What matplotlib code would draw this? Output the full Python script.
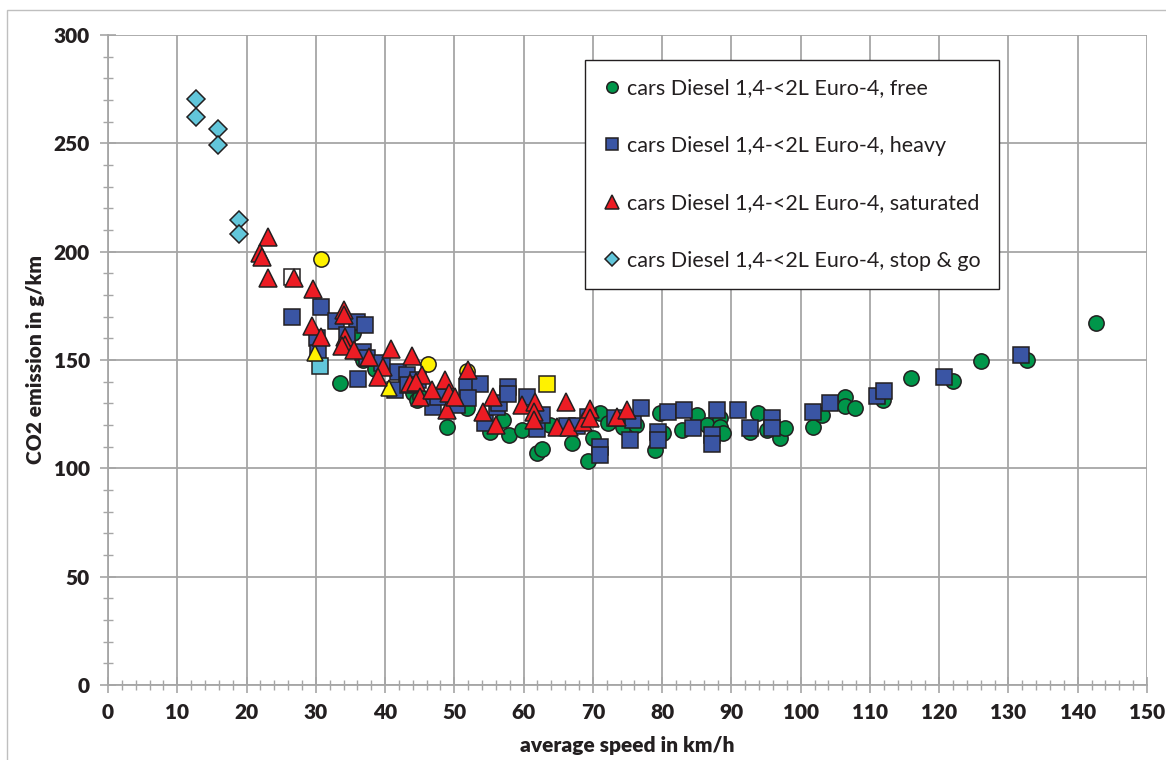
import matplotlib.pyplot as plt
from matplotlib.patches import Rectangle
from matplotlib.ticker import MultipleLocator

plt.rcParams['font.family'] = ['Lato', 'DejaVu Sans']

# free traffic (green circles)
free_x = [33.5, 35.4, 36.8, 38.5, 44.0, 44.6, 45.0, 48.9, 51.8, 55.1, 57.0, 57.9, 59.8, 61.9,
          62.7, 63.8, 67.0, 69.3, 70.0, 71.0, 72.2, 74.3, 76.2, 79.0, 79.7, 80.1, 82.9, 85.0,
          86.5, 88.3, 88.3, 88.8, 92.7, 93.8, 95.1, 97.0, 97.7, 101.8, 103.1, 106.4, 106.4,
          107.8, 111.9, 115.9, 122.0, 126.0, 132.7, 142.6]
free_y = [139.4, 162.5, 150.0, 146.0, 134.8, 131.5, 133.0, 119.1, 127.8, 116.8, 122.3, 115.4,
          117.7, 107.0, 108.9, 120.0, 111.7, 103.4, 114.0, 125.5, 120.9, 119.0, 120.0, 108.5,
          125.5, 116.3, 117.7, 124.6, 120.0, 123.2, 119.0, 116.3, 116.8, 125.5, 117.7, 114.0,
          118.6, 119.0, 124.6, 132.9, 128.8, 127.8, 131.5, 141.7, 140.3, 149.5, 150.0, 167.0]

# heavy traffic (blue squares)
heavy_x = [26.6, 30.7, 32.9, 35.9, 37.1, 34.5, 30.2, 30.3, 36.1, 36.8, 37.4, 39.6, 41.9, 43.2,
           44.8, 41.4, 43.3, 46.9, 47.6, 50.4, 51.8, 53.7, 52.0, 54.4, 56.2, 56.4, 57.7, 57.7,
           60.5, 61.9, 62.7, 66.3, 67.7, 69.3, 71.0, 71.0, 73.2, 75.8, 75.4, 77.0, 79.4, 79.4,
           80.8, 83.2, 84.5, 87.2, 87.2, 87.9, 90.9, 92.7, 95.9, 95.9, 101.8, 104.2, 111.0,
           112.0, 120.7, 131.8]
heavy_y = [169.8, 174.5, 168.0, 167.5, 166.2, 161.5, 160.2, 153.2, 141.2, 153.7, 150.9, 148.6,
           144.5, 143.0, 140.8, 136.2, 138.5, 128.3, 133.0, 129.2, 137.5, 138.9, 132.5, 120.9,
           128.3, 130.2, 137.5, 134.3, 133.0, 118.2, 124.6, 119.5, 119.5, 123.7, 109.8, 106.2,
           123.2, 122.3, 113.1, 127.8, 116.8, 113.1, 126.0, 126.9, 118.6, 115.4, 111.2, 126.9,
           126.9, 118.6, 123.2, 118.6, 126.0, 130.2, 133.4, 135.7, 142.2, 152.3]

# saturated traffic (red triangles)
sat_x = [23.1, 21.9, 22.2, 23.1, 26.9, 29.6, 34.1, 34.1, 29.5, 30.7, 34.2, 34.2, 33.8, 35.5,
         37.7, 39.7, 39.0, 40.9, 43.9, 45.3, 43.6, 44.5, 45.0, 46.8, 48.7, 48.9, 49.2, 50.1,
         52.0, 54.1, 55.6, 56.0, 59.8, 61.6, 61.5, 61.5, 66.1, 64.8, 66.6, 68.6, 69.6, 69.6,
         73.5, 74.9]
sat_y = [206.8, 199.4, 197.5, 187.8, 187.8, 182.8, 173.0, 170.8, 165.7, 160.6, 160.6, 156.9,
         156.4, 154.6, 151.4, 146.8, 142.2, 155.1, 151.8, 143.1, 139.4, 139.8, 133.0, 136.2,
         140.8, 126.9, 134.8, 133.0, 145.4, 126.0, 133.0, 120.0, 129.2, 130.6, 126.0, 122.3,
         130.6, 119.0, 119.0, 121.4, 127.4, 123.2, 123.7, 126.9]

# stop & go (cyan diamonds)
stop_x = [12.7, 12.7, 15.9, 15.9, 18.9, 18.9]
stop_y = [270.5, 262.2, 256.6, 249.2, 214.6, 208.2]

# extra points without legend entry
ycirc_x = [30.7, 46.2, 51.8]
ycirc_y = [196.6, 148.2, 144.9]
ytri_x = [29.9, 40.6]
ytri_y = [153.2, 137.1]
ysq_x = [63.4]
ysq_y = [138.9]
wsq_x = [26.6]
wsq_y = [188.3]
csq_x = [30.6]
csq_y = [147.2]

labels = ['cars Diesel 1,4-<2L Euro-4, free',
          'cars Diesel 1,4-<2L Euro-4, heavy',
          'cars Diesel 1,4-<2L Euro-4, saturated',
          'cars Diesel 1,4-<2L Euro-4, stop & go']

edge = '#231F20'
green = '#00964A'
blue = '#3A55A4'
red = '#ED1C24'
cyan = '#62C6DA'
yellow = '#FFF200'

fig = plt.figure(figsize=(11.66, 7.6), dpi=100)
ax = fig.add_axes([108 / 1166, 1 - 685 / 760, (1147 - 108) / 1166, (685 - 35) / 760])

kw = dict(linestyle='none', markeredgecolor=edge, markeredgewidth=1.1, clip_on=False)
h1, = ax.plot(free_x, free_y, 'o', color=green, markersize=11, label=labels[0], zorder=3, **kw)
h2, = ax.plot(heavy_x, heavy_y, 's', color=blue, markersize=11, label=labels[1], zorder=4, **kw)
ax.plot(wsq_x, wsq_y, 's', color='white', markersize=11, zorder=4, **kw)
ax.plot(csq_x, csq_y, 's', color=cyan, markersize=11, zorder=4, **kw)
ax.plot(ycirc_x, ycirc_y, 'o', color=yellow, markersize=11, zorder=4, **kw)
ax.plot(ytri_x, ytri_y, '^', color=yellow, markersize=12, zorder=5, **kw)
ax.plot(ysq_x, ysq_y, 's', color=yellow, markersize=11, zorder=4, **kw)
h3, = ax.plot(sat_x, sat_y, '^', color=red, markersize=12.5, label=labels[2], zorder=5, **kw)
h4, = ax.plot(stop_x, stop_y, 'D', color=cyan, markersize=9, label=labels[3], zorder=6, **kw)

ax.set_xlim(0, 150)
ax.set_ylim(0, 300)
ax.xaxis.set_major_locator(MultipleLocator(10))
ax.xaxis.set_minor_locator(MultipleLocator(2))
ax.yaxis.set_major_locator(MultipleLocator(50))
ax.yaxis.set_minor_locator(MultipleLocator(10))

gcol = '#A6A6A6'
ax.grid(True, which='major', color=gcol, linewidth=1.3, zorder=0)
ax.set_axisbelow(True)
for sp in ['top', 'right']:
    ax.spines[sp].set_visible(False)
for sp in ['left', 'bottom']:
    ax.spines[sp].set_color(gcol)
    ax.spines[sp].set_linewidth(1.3)
ax.tick_params(which='major', direction='inout', length=12, width=1.2, color=gcol, pad=7,
               labelsize=15)
ax.tick_params(which='minor', direction='inout', length=7, width=1.0, color=gcol)
for lab in ax.get_xticklabels() + ax.get_yticklabels():
    lab.set_fontweight('heavy')
    lab.set_color('#231F20')
fig.canvas.draw()
ax.yaxis.get_gridlines()[-1].set_visible(False)

ax.set_xlabel('average speed in km/h', fontsize=15, fontweight='heavy', color='#231F20', labelpad=10)
ax.set_ylabel('CO2 emission in g/km', fontsize=15, fontweight='heavy', color='#231F20', labelpad=6)

leg = ax.legend(handles=[h1, h2, h3, h4], loc='upper left',
                bbox_to_anchor=(585 / 1166, 1 - 60 / 760), bbox_transform=fig.transFigure,
                fontsize=15.5, markerscale=0.75, handlelength=0.8, handletextpad=0.3,
                labelspacing=1.74, borderpad=0.85, borderaxespad=0, fancybox=False,
                edgecolor='#231F20', framealpha=1, frameon=True)
leg.get_frame().set_linewidth(1.0)
leg.set_zorder(10)
for t in leg.get_texts():
    t.set_color('#231F20')

fig.patches.append(Rectangle((7 / 1166, -0.05), 1.0, 1 - 10 / 760 + 0.05, transform=fig.transFigure,
                             fill=False, edgecolor='#BFBFBF', linewidth=1.0))

plt.savefig('out.png', dpi=100)
